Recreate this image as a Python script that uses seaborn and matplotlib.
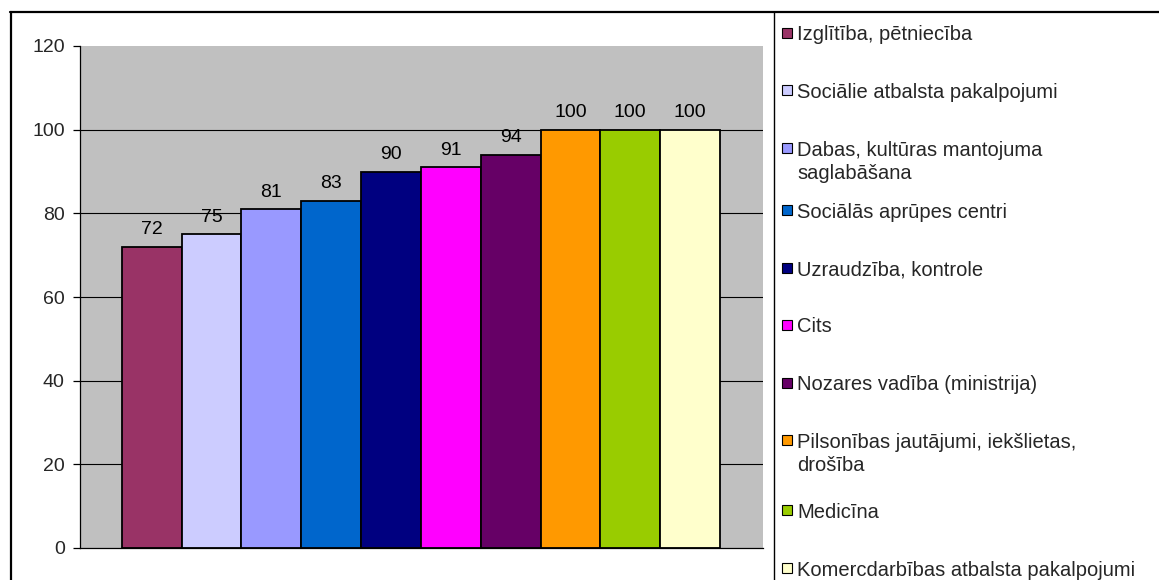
import matplotlib
matplotlib.use("Agg")
import matplotlib.pyplot as plt
from matplotlib.lines import Line2D
from matplotlib.patches import Rectangle
import seaborn as sns
import pandas as pd

categories = [
    "Izglītība, pētniecība",
    "Sociālie atbalsta pakalpojumi",
    "Dabas, kultūras mantojuma\nsaglabāšana",
    "Sociālās aprūpes centri",
    "Uzraudzība, kontrole",
    "Cits",
    "Nozares vadība (ministrija)",
    "Pilsonības jautājumi, iekšlietas,\ndrošība",
    "Medicīna",
    "Komercdarbības atbalsta pakalpojumi",
]
values = [72, 75, 81, 83, 90, 91, 94, 100, 100, 100]
colors = ["#993366", "#CCCCFF", "#9999FF", "#0066CC", "#000080",
          "#FF00FF", "#660066", "#FF9900", "#99CC00", "#FFFFCC"]
y_ticks = [0, 20, 40, 60, 80, 100, 120]

sns.set_style("white")
plt.rcParams["font.family"] = ["Liberation Sans", "DejaVu Sans"]

FS = 14
FS_LEG = 14.5
W, H = 1159, 580
fig = plt.figure(figsize=(W / 100, H / 100), dpi=100)
fig.patch.set_facecolor("white")

ax = fig.add_axes([80 / W, 1 - 548 / H, (763 - 80) / W, (548 - 46) / H])
ax.set_facecolor("#C0C0C0")

df = pd.DataFrame({"cat": categories, "val": values})
sns.barplot(data=df, x="cat", y="val", hue="cat", palette=colors,
            saturation=1, width=1.0, dodge=False, legend=False, ax=ax,
            edgecolor="black", linewidth=1.3, zorder=3)

for c in ax.containers:
    ax.bar_label(c, fmt="%d", padding=6, fontsize=FS, color="black")

ax.set_xlim(-1.2, 10.22)
ax.set_ylim(0, 120)
ax.set_yticks(y_ticks)
ax.set_yticklabels([str(t) for t in y_ticks], fontsize=FS)
ax.set_xticks([])
ax.set_xlabel("")
ax.set_ylabel("")
ax.tick_params(axis="y", direction="out", length=5, width=0.9,
               color="black", pad=6, left=True)
for t in y_ticks[1:-1]:
    ax.axhline(t, color="black", linewidth=0.8, zorder=1)
for side in ["top", "right"]:
    ax.spines[side].set_visible(False)
for side in ["left", "bottom"]:
    ax.spines[side].set_visible(True)
    ax.spines[side].set_color("black")
    ax.spines[side].set_linewidth(0.9)
    ax.spines[side].set_zorder(4)

# Outer chart frame and legend separator
fig.add_artist(Line2D([10 / W, 1.0], [1 - 11.5 / H, 1 - 11.5 / H],
                      color="black", linewidth=1.6, transform=fig.transFigure))
fig.add_artist(Line2D([10.5 / W, 10.5 / W], [0, 1 - 11.5 / H],
                      color="black", linewidth=1.6, transform=fig.transFigure))
fig.add_artist(Line2D([773.5 / W, 773.5 / W], [0, 1 - 11.5 / H],
                      color="black", linewidth=1.0, transform=fig.transFigure))

# Legend entries
legend_y = [33, 90, 148, 210, 268, 325, 383, 440, 510, 568]
for name, col, yc in zip(categories, colors, legend_y):
    fig.add_artist(Rectangle((782 / W, 1 - (yc + 5) / H), 10 / W, 10 / H,
                             facecolor=col, edgecolor="black", linewidth=0.8,
                             transform=fig.transFigure))
    fig.text(797 / W, 1 - (yc - 7.5) / H, name, fontsize=FS_LEG, va="top",
             ha="left", linespacing=1.3)

fig.savefig("out.png", dpi=100)
